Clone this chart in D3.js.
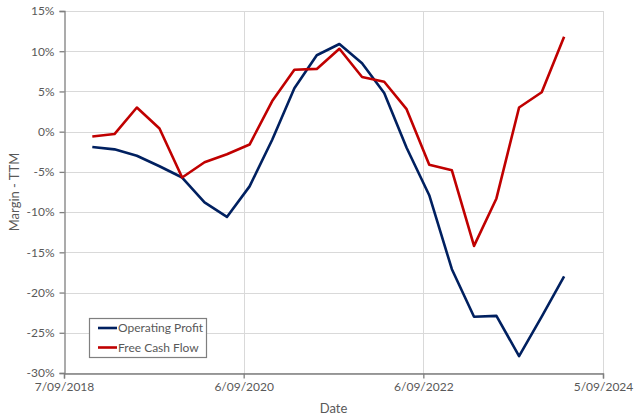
<!DOCTYPE html>
<html>
<head>
<meta charset="utf-8">
<script src="https://cdn.jsdelivr.net/npm/d3@7"></script>
<style>
  body { margin: 0; background: #fff; }
  text { font-family: Lato, "Open Sans", sans-serif; }
</style>
</head>
<body>
<script>
// quarter-end dates, TTM margins in %
const dates = [
    '2018-12-31', '2019-03-31', '2019-06-30', '2019-09-30',
    '2019-12-31', '2020-03-31', '2020-06-30', '2020-09-30',
    '2020-12-31', '2021-03-31', '2021-06-30', '2021-09-30',
    '2021-12-31', '2022-03-31', '2022-06-30', '2022-09-30',
    '2022-12-31', '2023-03-31', '2023-06-30', '2023-09-30',
    '2023-12-31', '2024-03-31',
]
const operatingProfit = [
    -1.9, -2.2, -3.0, -4.3, -5.7, -8.8, -10.6, -6.8,
    -1.0, 5.4, 9.5, 10.9, 8.5, 4.8, -2.0, -7.9,
    -17.1, -23.0, -22.9, -27.9, -23.0, -18.0,
]
const freeCashFlow = [
    -0.6, -0.3, 3.0, 0.4, -5.7, -3.8, -2.8, -1.6,
    3.8, 7.7, 7.8, 10.3, 6.8, 6.2, 2.8, -4.1,
    -4.8, -14.2, -8.3, 3.0, 4.9, 11.8,
]
const seriesNames = ['Operating Profit', 'Free Cash Flow']
const seriesColors = ['#002060', '#c00000']
const xTickLabels = ['7/09/2018', '6/09/2020', '6/09/2022', '5/09/2024']
const yTicks = [15, 10, 5, 0, -5, -10, -15, -20, -25, -30]

const width = 640, height = 418
const margin = { top: 11, right: 37, bottom: 45, left: 64 }

const parse = d3.timeParse('%Y-%m-%d')
const parseTick = d3.timeParse('%d/%m/%Y')
const tickDates = xTickLabels.map(parseTick)

const x = d3.scaleTime()
    .domain([tickDates[0], tickDates[tickDates.length - 1]])
    .range([margin.left, width - margin.right])
const y = d3.scaleLinear()
    .domain([-30, 15])
    .range([height - margin.bottom, margin.top])

const svg = d3.select('body').append('svg')
    .attr('width', width)
    .attr('height', height)
    .attr('viewBox', [0, 0, width, height])

// gridlines
const grid = svg.append('g')
    .attr('stroke', '#d9d9d9')
    .attr('stroke-width', 1)
grid.selectAll('line.h')
    .data(yTicks)
    .join('line')
        .attr('class', 'h')
        .attr('x1', margin.left)
        .attr('x2', width - margin.right)
        .attr('y1', d => Math.round(y(d)) + 0.5)
        .attr('y2', d => Math.round(y(d)) + 0.5)
grid.selectAll('line.v')
    .data(tickDates.slice(1))
    .join('line')
        .attr('class', 'v')
        .attr('x1', d => Math.round(x(d)) + 0.5)
        .attr('x2', d => Math.round(x(d)) + 0.5)
        .attr('y1', margin.top)
        .attr('y2', height - margin.bottom)

// axes
const yAxis = svg.append('g')
    .attr('transform', `translate(${margin.left + 0.5},0)`)
    .call(d3.axisLeft(y)
        .tickValues(yTicks)
        .tickSize(5)
        .tickPadding(5)
        .tickFormat(d => d + '%'))
const xAxis = svg.append('g')
    .attr('transform', `translate(0,${Math.round(y(-30)) + 0.5})`)
    .call(d3.axisBottom(x)
        .tickValues(tickDates)
        .tickSize(5)
        .tickPadding(4)
        .tickFormat((d, i) => xTickLabels[i]))

for (const axis of [xAxis, yAxis]) {
    axis.select('.domain').attr('stroke', '#7f7f7f').attr('stroke-width', 1.3)
    axis.selectAll('.tick line').attr('stroke', '#7f7f7f').attr('stroke-width', 1.3)
    axis.selectAll('.tick text')
        .attr('fill', '#595959')
        .attr('font-size', 12)
        .style('font-family', 'Lato, "Open Sans", sans-serif')
}

// axis titles
svg.append('text')
    .attr('transform', `translate(14,${(margin.top + height - margin.bottom) / 2}) rotate(-90)`)
    .attr('text-anchor', 'middle')
    .attr('dy', '0.35em')
    .attr('fill', '#595959')
    .attr('font-size', 13)
    .text('Margin - TTM')
svg.append('text')
    .attr('x', (margin.left + width - margin.right) / 2)
    .attr('y', 408)
    .attr('text-anchor', 'middle')
    .attr('dy', '0.35em')
    .attr('fill', '#595959')
    .attr('font-size', 13)
    .text('Date')

// lines
const series = [operatingProfit, freeCashFlow]
const line = d3.line()
    .x((d, i) => x(parse(dates[i])))
    .y(d => y(d))
svg.append('g')
        .attr('fill', 'none')
        .attr('stroke-width', 2.6)
        .attr('stroke-linejoin', 'round')
    .selectAll('path')
    .data(series)
    .join('path')
        .attr('stroke', (d, i) => seriesColors[i])
        .attr('d', line)

// legend
const legend = svg.append('g')
    .attr('transform', 'translate(89,318)')
legend.append('rect')
    .attr('x', 0.5)
    .attr('y', 0.5)
    .attr('width', 117)
    .attr('height', 39)
    .attr('fill', '#fff')
    .attr('stroke', '#7f7f7f')
    .attr('stroke-width', 1.2)
const item = legend.selectAll('g')
    .data(seriesNames)
    .join('g')
        .attr('transform', (d, i) => `translate(0,${10 + i * 19.5})`)
item.append('line')
    .attr('x1', 9)
    .attr('x2', 28)
    .attr('stroke', (d, i) => seriesColors[i])
    .attr('stroke-width', 2.6)
item.append('text')
    .attr('x', 29)
    .attr('dy', '0.35em')
    .attr('fill', '#595959')
    .attr('font-size', 12)
    .text(d => d)
</script>
</body>
</html>
